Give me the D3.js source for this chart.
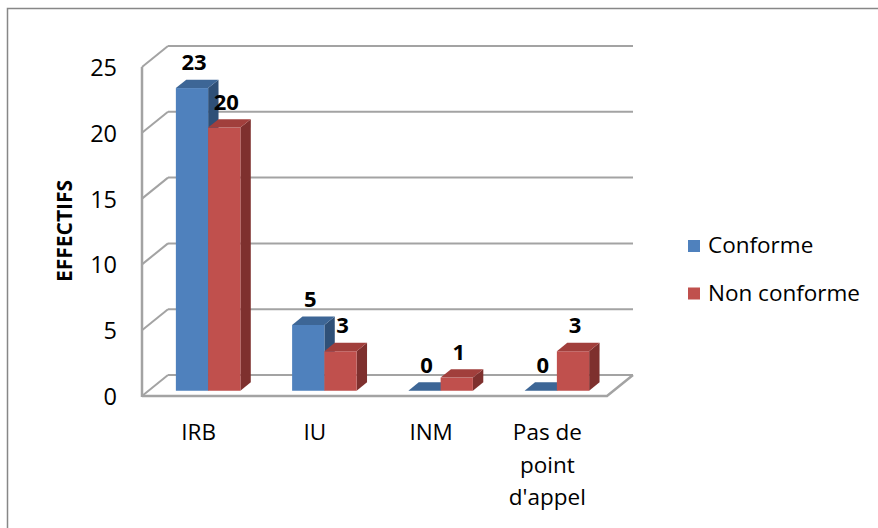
<!DOCTYPE html>
<html lang="fr">
<head>
<meta charset="utf-8">
<script src="https://cdnjs.cloudflare.com/ajax/libs/d3/7.8.5/d3.min.js"></script>
<style>
  body { margin: 0; background: #fff; }
  svg text { font-family: "Open Sans", "DejaVu Sans", sans-serif; fill: #000; }
</style>
</head>
<body>
<svg id="chart" width="878" height="528"></svg>
<script>
var categories = [["IRB"], ["IU"], ["INM"], ["Pas de", "point", "d'appel"]];
var conforme = [23, 5, 0, 0];
var nonConforme = [20, 3, 1, 3];
var seriesNames = ["Conforme", "Non conforme"];
var yTicks = [0, 5, 10, 15, 20, 25];

var svg = d3.select("#chart");

// depth of the 3d box
var depthX = 26, depthY = -21;
var front = 0.25, back = 0.65;   // bar depth inside the box

var x = d3.scaleBand()
    .domain(d3.range(categories.length))
    .range([142, 607]);

var y = d3.scaleLinear().domain([0, 25]).range([396, 67]);
var yLabel = d3.scaleLinear().domain([0, 25]).range([397, 68]);

var series = [
  {name: seriesNames[0], values: conforme, front: "#4f81bd", top: "#3d6696", side: "#2f5077"},
  {name: seriesNames[1], values: nonConforme, front: "#c0504d", top: "#a13f3c", side: "#7e302e"}
];

var grid = "#a3a3a3";

// outer frame
svg.append("rect")
    .attr("x", 7.5).attr("y", 8.5)
    .attr("width", 900).attr("height", 540)
    .attr("fill", "none")
    .attr("stroke", "#878787")
    .attr("stroke-width", 1.5);

// back wall + left wall grid
var g = svg.append("g");
yTicks.forEach(function(v) {
  g.append("line")
      .attr("x1", 142).attr("y1", y(v))
      .attr("x2", 142 + depthX).attr("y2", y(v) + depthY)
      .attr("stroke", grid).attr("stroke-width", 2);
  g.append("line")
      .attr("x1", 142 + depthX).attr("y1", y(v) + depthY)
      .attr("x2", 607 + depthX).attr("y2", y(v) + depthY)
      .attr("stroke", grid).attr("stroke-width", 2);
});

// left wall front edge
g.append("line")
    .attr("x1", 142).attr("y1", y(25))
    .attr("x2", 142).attr("y2", y(0) + 1)
    .attr("stroke", grid).attr("stroke-width", 2.5);

// floor
g.append("path")
    .attr("d", "M142," + y(0) + "L607," + y(0) + "L" + (607 + depthX) + "," + (y(0) + depthY))
    .attr("fill", "none")
    .attr("stroke", grid).attr("stroke-width", 2.5);

// bars
var groupW = x.bandwidth() * 0.555;
var barW = groupW / 2;

function pt(px, py, z) {
  return [px + depthX * z, py + depthY * z];
}
function poly(pts) {
  return "M" + pts.map(function(p) { return p[0] + "," + p[1]; }).join("L") + "Z";
}

var bars = svg.append("g");
categories.forEach(function(c, i) {
  series.forEach(function(s, k) {
    var v = s.values[i];
    var x0 = x(i) + x.bandwidth() / 2 - groupW / 2 + 1.5 + k * barW;
    var x1 = x0 + barW;
    var yt = y(v), yb = y(0);
    // side
    bars.append("path")
        .attr("d", poly([pt(x1, yt, front), pt(x1, yt, back), pt(x1, yb, back), pt(x1, yb, front)]))
        .attr("fill", s.side);
    // front
    if (v > 0) {
      var a = pt(x0, yt, front), b = pt(x1, yb, front);
      bars.append("rect")
          .attr("x", a[0]).attr("y", a[1])
          .attr("width", b[0] - a[0]).attr("height", b[1] - a[1])
          .attr("fill", s.front);
    }
    // top
    bars.append("path")
        .attr("d", poly([pt(x0, yt, front), pt(x1, yt, front), pt(x1, yt, back), pt(x0, yt, back)]))
        .attr("fill", s.top);
    // value label
    var lp = pt((x0 + x1) / 2 + 2, yt, front);
    svg.append("text")
        .attr("x", lp[0]).attr("y", lp[1] - 18)
        .attr("text-anchor", "middle")
        .style("font-size", "22px")
        .style("font-weight", "bold")
        .text(v);
  });
});

// y axis labels
var yAxis = svg.append("g")
    .attr("transform", "translate(117,0)")
    .call(d3.axisLeft(yLabel).tickValues(yTicks).tickSize(0).tickPadding(0));
yAxis.select(".domain").remove();
yAxis.selectAll("text")
    .style("font-size", "23.5px")
    .style("font-family", "'Open Sans', sans-serif")
    .attr("fill", "#000");

svg.append("text")
    .attr("transform", "translate(72,231) rotate(-90)")
    .attr("text-anchor", "middle")
    .style("font-size", "21px")
    .style("font-weight", "bold")
    .text("EFFECTIFS");

// category labels
categories.forEach(function(lines, i) {
  var t = svg.append("text")
      .attr("x", x(i) + x.bandwidth() / 2 - 1.5)
      .attr("y", 440)
      .attr("text-anchor", "middle")
      .style("font-size", "22.5px");
  lines.forEach(function(l, j) {
    t.append("tspan")
        .attr("x", x(i) + x.bandwidth() / 2 - 1.5)
        .attr("dy", j === 0 ? 0 : 32.5)
        .text(l);
  });
});

// legend
var legend = svg.append("g");
series.forEach(function(s, k) {
  var ly = 240 + k * 47.5;
  legend.append("rect")
      .attr("x", 688).attr("y", ly)
      .attr("width", 12).attr("height", 12)
      .attr("fill", s.front);
  legend.append("text")
      .attr("x", 708).attr("y", ly + 13)
      .style("font-size", "22.5px")
      .text(s.name);
});
</script>
</body>
</html>
